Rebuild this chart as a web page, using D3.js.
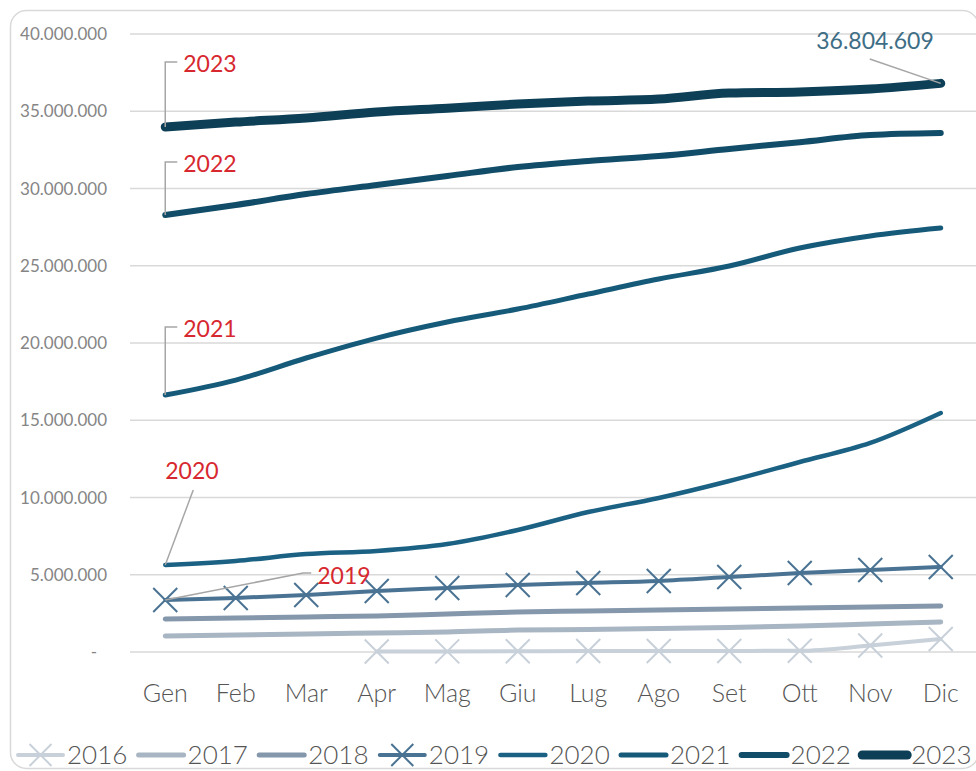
<!DOCTYPE html>
<html>
<head>
<meta charset="utf-8">
<script src="https://cdn.jsdelivr.net/npm/d3@7"></script>
<style>
  body { margin: 0; background: #fff; }
  text { font-family: Lato, "Noto Sans", sans-serif; }
  .light { font-weight: 300; }
</style>
</head>
<body>
<script>
var width = 976, height = 771;
var margin = {top: 34, bottom: 119, left: 130, right: 0};

// data (values in euro)
var months = ["Gen","Feb","Mar","Apr","Mag","Giu","Lug","Ago","Set","Ott","Nov","Dic"];
var years = ["2016","2017","2018","2019","2020","2021","2022","2023"];
var yTicks = [0, 5e6, 10e6, 15e6, 20e6, 25e6, 30e6, 35e6, 40e6];

var v2016 = [null, null, null, 30000, 40000, 50000, 60000, 60000, 70000, 80000, 420000, 840000];
var v2017 = [1040000, 1100000, 1170000, 1230000, 1290000, 1420000, 1460000, 1520000, 1590000, 1680000, 1810000, 1940000];
var v2018 = [2140000, 2200000, 2270000, 2330000, 2460000, 2590000, 2650000, 2720000, 2780000, 2850000, 2910000, 2980000];
var v2019 = [3370000, 3500000, 3690000, 3950000, 4140000, 4340000, 4470000, 4600000, 4850000, 5110000, 5310000, 5500000];
var v2020 = [5630000, 5890000, 6340000, 6540000, 6990000, 7900000, 9060000, 9970000, 11070000, 12300000, 13530000, 15470000];
var v2021 = [16630000, 17600000, 19030000, 20320000, 21360000, 22200000, 23170000, 24140000, 24980000, 26150000, 26930000, 27440000];
var v2022 = [28280000, 28930000, 29640000, 30230000, 30810000, 31390000, 31780000, 32100000, 32560000, 33000000, 33460000, 33590000];
var v2023 = [33980000, 34300000, 34560000, 34950000, 35200000, 35470000, 35660000, 35790000, 36180000, 36250000, 36440000, 36804609];
var values = [v2016, v2017, v2018, v2019, v2020, v2021, v2022, v2023];

var colors = ["#c8d0d9", "#a8b5c2", "#8497ab", "#4a7393", "#1b6184", "#165a7a", "#114c68", "#0d3f56"];
var widths = [4, 5, 5, 4, 4.5, 5, 6, 9];
var markers = [true, false, false, true, false, false, false, false];

var it = d3.formatLocale({decimal: ",", thousands: ".", grouping: [3], currency: ["€", ""]});
var fmt = it.format(",.0f");

var svg = d3.select("body").append("svg")
  .attr("width", width)
  .attr("height", height);

// outer frame
svg.append("rect")
  .attr("x", 10.5).attr("y", 10.5)
  .attr("width", 968).attr("height", 758)
  .attr("rx", 16)
  .attr("fill", "none")
  .attr("stroke", "#d9d9d9")
  .attr("stroke-width", 1.5);

var xScale = d3.scaleBand()
  .domain(months)
  .range([margin.left, width - margin.right]);
var xc = function(m) { return xScale(m) + xScale.bandwidth() / 2; };

var yScale = d3.scaleLinear()
  .domain([0, 40e6])
  .range([height - margin.bottom, margin.top]);

// grid
svg.append("g").selectAll("line")
  .data(yTicks)
  .enter()
  .append("line")
  .attr("x1", margin.left)
  .attr("x2", width)
  .attr("y1", function(d) { return yScale(d); })
  .attr("y2", function(d) { return yScale(d); })
  .attr("stroke", "#d9d9d9")
  .attr("stroke-width", 1.5);

// y labels
svg.append("g").selectAll("text")
  .data(yTicks)
  .enter()
  .append("text")
  .attr("x", function(d) { return d === 0 ? 97 : 107; })
  .attr("y", function(d) { return yScale(d); })
  .attr("dy", "0.36em")
  .attr("text-anchor", "end")
  .attr("fill", "#858585")
  .style("font-size", "17px")
  .text(function(d) { return d === 0 ? "-" : fmt(d); });

// x labels
svg.append("g").selectAll("text")
  .data(months)
  .enter()
  .append("text")
  .attr("class", "light")
  .attr("x", function(d) { return xc(d); })
  .attr("y", 702)
  .attr("text-anchor", "middle")
  .attr("fill", "#555")
  .style("font-size", "25px")
  .text(function(d) { return d; });

var line = d3.line()
  .defined(function(d) { return d != null; })
  .x(function(d, i) { return xc(months[i]); })
  .y(function(d) { return yScale(d); })
  .curve(d3.curveMonotoneX);

function xMark(g, x, y, s, color) {
  g.append("path")
    .attr("d", "M" + (x - s) + "," + (y - s) + "L" + (x + s) + "," + (y + s) +
               "M" + (x - s) + "," + (y + s) + "L" + (x + s) + "," + (y - s))
    .attr("stroke", color)
    .attr("stroke-width", 2)
    .attr("fill", "none");
}

values.forEach(function(vals, k) {
  var g = svg.append("g");
  g.append("path")
    .attr("d", line(vals))
    .attr("fill", "none")
    .attr("stroke", colors[k])
    .attr("stroke-width", widths[k])
    .attr("stroke-linecap", "round")
    .attr("stroke-linejoin", "round");
  if (markers[k]) {
    vals.forEach(function(v, i) {
      if (v != null) xMark(g, xc(months[i]), yScale(v), 12, colors[k]);
    });
  }
});

// series labels with leader lines
var leader = "#a6a6a6";
var red = "#d7282f";
function elbowLabel(k, ty) {
  var x = xc(months[0]), y = yScale(values[k][0]);
  svg.append("path")
    .attr("d", "M" + x + "," + y + "V" + (ty - 10) + "H" + (x + 12))
    .attr("fill", "none").attr("stroke", leader).attr("stroke-width", 1.5);
  svg.append("text")
    .attr("x", x + 18).attr("y", ty)
    .attr("fill", red).style("font-size", "23px")
    .text(years[k]);
}
elbowLabel(7, 72);
elbowLabel(6, 172);
elbowLabel(5, 337);

// 2020
(function() {
  var x = xc(months[0]), y = yScale(v2020[0]);
  svg.append("line")
    .attr("x1", x).attr("y1", y).attr("x2", x + 28).attr("y2", 490)
    .attr("stroke", leader).attr("stroke-width", 1.5);
  svg.append("text")
    .attr("x", x).attr("y", 479)
    .attr("fill", red).style("font-size", "23px")
    .text(years[4]);
})();

// 2019
(function() {
  var x = xc(months[0]), y = yScale(v2019[0]);
  svg.append("path")
    .attr("d", "M" + x + "," + y + "L" + (x + 138) + ",573H" + (x + 146))
    .attr("fill", "none").attr("stroke", leader).attr("stroke-width", 1.5);
  svg.append("text")
    .attr("x", x + 152).attr("y", 584)
    .attr("fill", red).style("font-size", "23px")
    .text(years[3]);
})();

// last value of 2023
(function() {
  var x = xc(months[11]), y = yScale(v2023[11]);
  svg.append("line")
    .attr("x1", x).attr("y1", y).attr("x2", x - 71).attr("y2", 59)
    .attr("stroke", leader).attr("stroke-width", 1.5);
  svg.append("text")
    .attr("x", 875).attr("y", 49)
    .attr("text-anchor", "middle")
    .attr("fill", "#3e6e86").style("font-size", "23px")
    .text(fmt(v2023[11]));
})();

// legend
var legend = svg.append("g").selectAll("g")
  .data(years)
  .enter()
  .append("g")
  .attr("transform", function(d, i) { return "translate(" + (18 + i * 120.6) + ",755)"; });

legend.append("line")
  .attr("x1", 0).attr("x2", 45)
  .attr("y1", 0).attr("y2", 0)
  .attr("stroke", function(d, i) { return colors[i]; })
  .attr("stroke-width", function(d, i) { return widths[i]; })
  .attr("stroke-linecap", "round");

legend.each(function(d, i) {
  if (markers[i]) xMark(d3.select(this), 22.5, 0, 11, colors[i]);
});

legend.append("text")
  .attr("class", "light")
  .attr("x", 49)
  .attr("dy", "0.36em")
  .attr("fill", "#555")
  .style("font-size", "26px")
  .text(function(d) { return d; });
</script>
</body>
</html>
